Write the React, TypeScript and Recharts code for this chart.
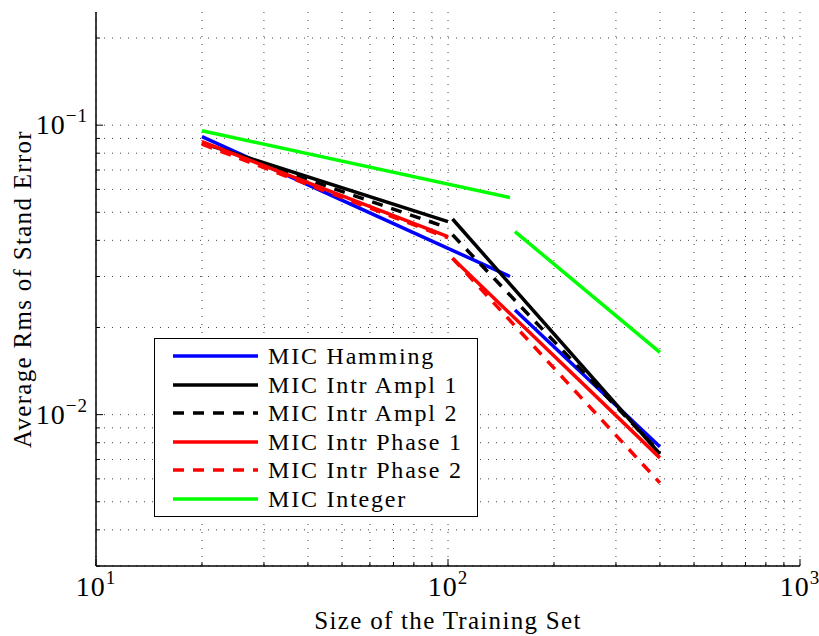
import { LineChart, Line, XAxis, YAxis, CartesianGrid } from 'recharts';

// segments of each method (x = size of training set, y = avg rms error)
const hamming1 = [{ x: 20, y: 0.0913 }, { x: 150, y: 0.030 }];
const hamming2 = [{ x: 155, y: 0.023 }, { x: 400, y: 0.00775 }];
const ampl1a = [{ x: 20, y: 0.0868 }, { x: 100, y: 0.0464 }];
const ampl1b = [{ x: 103, y: 0.0474 }, { x: 400, y: 0.00731 }];
const ampl2a = [{ x: 20, y: 0.0865 }, { x: 100, y: 0.0442 }];
const ampl2b = [{ x: 103, y: 0.0418 }, { x: 400, y: 0.0074 }];
const phase1a = [{ x: 20, y: 0.0877 }, { x: 100, y: 0.0412 }];
const phase1b = [{ x: 103, y: 0.0347 }, { x: 400, y: 0.00709 }];
const phase2a = [{ x: 20, y: 0.086 }, { x: 100, y: 0.0408 }];
const phase2b = [{ x: 103, y: 0.0347 }, { x: 400, y: 0.00581 }];
const integer1 = [{ x: 20, y: 0.0957 }, { x: 150, y: 0.0562 }];
const integer2 = [{ x: 155, y: 0.0429 }, { x: 400, y: 0.0164 }];

const xMajor = [10, 100, 1000];
const xMinor = [20, 30, 40, 50, 60, 70, 80, 90, 200, 300, 400, 500, 600, 700, 800, 900];
const yMajor = [0.01, 0.1];
const yMinor = [0.003, 0.004, 0.005, 0.006, 0.007, 0.008, 0.009, 0.02, 0.03, 0.04, 0.05, 0.06, 0.07, 0.08, 0.09, 0.2];
const xExp: Record<number, string> = { 10: '1', 100: '2', 1000: '3' };
const yExp: Record<number, string> = { 0.01: '\u22122', 0.1: '\u22121' };

const series = [
  { name: 'MIC Hamming', color: '#0000ff', dash: undefined, segments: [hamming1, hamming2] },
  { name: 'MIC Intr Ampl 1', color: '#000000', dash: undefined, segments: [ampl1a, ampl1b] },
  { name: 'MIC Intr Ampl 2', color: '#000000', dash: '11 9', segments: [ampl2a, ampl2b] },
  { name: 'MIC Intr Phase 1', color: '#ff0000', dash: undefined, segments: [phase1a, phase1b] },
  { name: 'MIC Intr Phase 2', color: '#ff0000', dash: '11 9', segments: [phase2a, phase2b] },
  { name: 'MIC Integer', color: '#00ff00', dash: undefined, segments: [integer1, integer2] },
];

const FONT = '"Liberation Serif", "Times New Roman", serif';
const xTicks = [...xMajor, ...xMinor].sort((a, b) => a - b);
const yTicks = [...yMajor, ...yMinor].sort((a, b) => a - b);

const BottomTick = ({ x, y, payload }: any) => {
  const major = xMajor.includes(payload.value);
  return (
    <g>
      <line x1={x} y1={y} x2={x} y2={y - (major ? 7 : 4)} stroke="#000" />
      {major && (
        <text x={x} y={y + 30} textAnchor="middle" fontFamily={FONT} fontSize={28} letterSpacing={1} fill="#000">
          10<tspan dy={-12} fontSize={19}>{xExp[payload.value]}</tspan>
        </text>
      )}
    </g>
  );
};

const TopTick = ({ x, y, payload }: any) => {
  const major = xMajor.includes(payload.value);
  return <line x1={x} y1={y} x2={x} y2={y + (major ? 7 : 4)} stroke="#000" />;
};

const LeftTick = ({ x, y, payload }: any) => {
  const major = yMajor.includes(payload.value);
  return (
    <g>
      <line x1={x} y1={y} x2={x + (major ? 7 : 4)} y2={y} stroke="#000" />
      {major && (
        <text x={x - 8} y={y + 9} textAnchor="end" fontFamily={FONT} fontSize={28} letterSpacing={1} fill="#000">
          10<tspan dy={-12} fontSize={19}>{yExp[payload.value]}</tspan>
        </text>
      )}
    </g>
  );
};

const RightTick = ({ x, y, payload }: any) => {
  const major = yMajor.includes(payload.value);
  return <line x1={x} y1={y} x2={x - (major ? 7 : 4)} y2={y} stroke="#000" />;
};

export default function App() {
  return (
    <div style={{ position: 'absolute', left: 0, top: 0, width: 819, height: 636, background: '#fff' }}>
      <LineChart width={819} height={636} margin={{ top: 12, right: 19, bottom: 0, left: 0 }}>
        <CartesianGrid
          horizontalValues={yTicks}
          verticalValues={xTicks}
          stroke="#444"
          strokeDasharray="1 7"
        />
        <XAxis
          dataKey="x"
          type="number"
          scale="log"
          domain={[10, 1000]}
          ticks={xTicks}
          interval={0}
          allowDataOverflow
          height={70}
          tickSize={0}
          tickMargin={0}
          tick={<BottomTick />}
          axisLine={{ stroke: '#000', strokeWidth: 1.5 }}
        />
        <XAxis
          xAxisId="top"
          orientation="top"
          dataKey="x"
          type="number"
          scale="log"
          domain={[10, 1000]}
          ticks={xTicks}
          interval={0}
          allowDataOverflow
          height={0}
          tickSize={0}
          tickMargin={0}
          tick={<TopTick />}
          axisLine={{ stroke: '#000', strokeWidth: 1.5 }}
        />
        <YAxis
          type="number"
          scale="log"
          domain={[0.003, 0.246]}
          ticks={yTicks}
          interval={0}
          allowDataOverflow
          width={96}
          tickSize={0}
          tickMargin={0}
          tick={<LeftTick />}
          axisLine={{ stroke: '#000', strokeWidth: 1.5 }}
        />
        <YAxis
          yAxisId="right"
          orientation="right"
          type="number"
          scale="log"
          domain={[0.003, 0.246]}
          ticks={yTicks}
          interval={0}
          allowDataOverflow
          width={0}
          tickSize={0}
          tickMargin={0}
          tick={<RightTick />}
          axisLine={{ stroke: '#000', strokeWidth: 1.5 }}
        />
        {series.map((s) =>
          s.segments.map((seg, j) => (
            <Line
              key={`${s.name}-${j}`}
              data={seg}
              dataKey="y"
              stroke={s.color}
              strokeWidth={3.5}
              strokeDasharray={s.dash}
              dot={false}
              activeDot={false}
              isAnimationActive={false}
            />
          ))
        )}
      </LineChart>

      {/* legend box */}
      <div
        style={{
          position: 'absolute',
          left: 154,
          top: 338,
          width: 322,
          height: 177,
          border: '1.5px solid #000',
          background: '#fff',
        }}
      >
        {series.map((s, i) => (
          <div key={s.name} style={{ position: 'absolute', left: 0, top: 3 + i * 28.6, height: 28, width: 322 }}>
            <svg width={110} height={28} style={{ position: 'absolute', left: 0, top: 0 }}>
              <line x1={18} y1={14} x2={103} y2={14} stroke={s.color} strokeWidth={3.5} strokeDasharray={s.dash} />
            </svg>
            <span
              style={{
                position: 'absolute',
                left: 113,
                top: 0,
                lineHeight: '28px',
                fontFamily: FONT,
                fontSize: 24,
                letterSpacing: 1.8,
                whiteSpace: 'nowrap',
                color: '#000',
              }}
            >
              {s.name}
            </span>
          </div>
        ))}
      </div>

      <div
        style={{
          position: 'absolute',
          left: 96,
          width: 704,
          top: 606,
          textAlign: 'center',
          fontFamily: FONT,
          fontSize: 25,
          letterSpacing: 1.3,
          lineHeight: '30px',
          color: '#000',
        }}
      >
        Size of the Training Set
      </div>
      <div
        style={{
          position: 'absolute',
          left: 23,
          top: 289,
          transform: 'translate(-50%, -50%) rotate(-90deg)',
          fontFamily: FONT,
          fontSize: 25,
          letterSpacing: 1.3,
          whiteSpace: 'nowrap',
          lineHeight: '30px',
          color: '#000',
        }}
      >
        Average Rms of Stand Error
      </div>
    </div>
  );
}
